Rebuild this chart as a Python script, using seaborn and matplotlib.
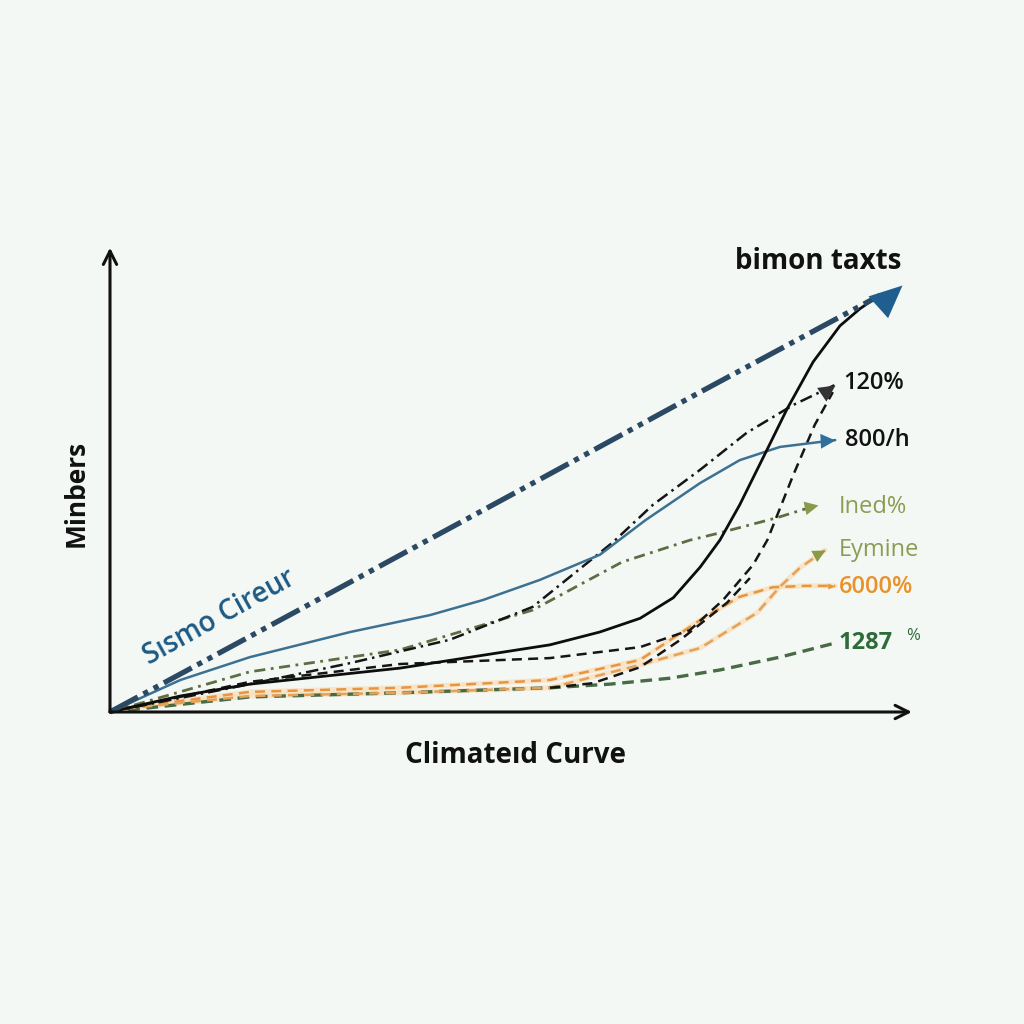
import numpy as np
import pandas as pd
import seaborn as sns
import matplotlib.pyplot as plt

# values (x: 0-100, y: 0-100)
navy_x = [0, 24.1, 49.4, 74.7, 97.5]
navy_y = [0, 22.5, 46.2, 70.0, 91.2]

black_x = [0, 8.9, 17.7, 36.7, 55.7, 62.0, 67.1, 71.3, 74.7, 77.2, 79.7, 83.2, 85.7, 89.0, 92.4, 94.9, 97.2]
black_y = [0, 3.5, 6.1, 9.6, 14.7, 17.5, 20.5, 25.0, 31.7, 37.6, 45.3, 57.5, 66.3, 76.6, 84.5, 88.2, 91.0]

blue_x = [0, 8.9, 17.7, 30.4, 40.5, 47.2, 54.4, 62.0, 67.8, 74.7, 79.7, 84.8, 91.8]
blue_y = [0, 7.0, 12.0, 17.5, 21.2, 24.5, 28.9, 34.4, 42.0, 50.1, 55.1, 58.0, 59.5]

dashdot_x = [0, 17.7, 30.4, 43.0, 53.5, 63.7, 68.7, 74.7, 80.6, 86.5, 91.8]
dashdot_y = [0, 6.1, 10.7, 15.8, 23.0, 37.2, 45.3, 53.0, 61.1, 67.2, 71.6]

steep_x = [0, 17.7, 36.7, 55.7, 67.1, 73.4, 77.6, 81.4, 83.2, 86.5, 89.2, 91.5]
steep_y = [0, 6.6, 10.5, 11.8, 14.2, 17.9, 24.5, 32.2, 37.6, 51.9, 62.8, 70.0]

lower_x = [55.7, 61.1, 67.1, 72.2, 78.1, 81.0]
lower_y = [5.3, 6.3, 9.8, 15.8, 23.9, 29.3]

olive_x = [0, 17.7, 36.7, 53.5, 64.8, 73.4, 77.2, 84.4, 89.6]
olive_y = [0, 8.8, 13.6, 22.3, 32.8, 37.6, 39.2, 42.5, 45.3]

orange1_x = [0, 17.7, 36.7, 55.7, 67.1, 74.7, 79.7, 83.9, 88.0, 91.8]
orange1_y = [0.4, 4.4, 5.3, 7.0, 11.4, 20.1, 25.2, 27.3, 27.6, 27.6]

orange2_x = [0, 17.7, 36.7, 55.7, 67.1, 74.7, 81.9, 84.8, 87.3, 90.5]
orange2_y = [0.4, 3.5, 4.2, 5.3, 10.3, 14.0, 21.7, 27.4, 31.5, 35.4]

green_x = [0, 17.7, 36.7, 55.7, 63.3, 70.9, 77.2, 84.8, 91.8]
green_y = [0, 3.3, 4.2, 5.3, 6.1, 7.4, 9.2, 12.0, 15.1]

end_labels = ["120%", "800/h", "Ined%", "Eymine", "6000%", "1287"]

sns.set_theme(style="white")
plt.rcParams['font.family'] = ['Open Sans', 'DejaVu Sans']

bg = "#f3f8f5"
fig = plt.figure(figsize=(10.24, 10.24), dpi=100, facecolor=bg)
ax = fig.add_axes([110 / 1024, 312 / 1024, 790 / 1024, 457 / 1024])
ax.set_facecolor(bg)
ax.patch.set_alpha(0)
ax.set_xlim(0, 100)
ax.set_ylim(0, 100)
for s in ax.spines.values():
    s.set_visible(False)
ax.set_xticks([])
ax.set_yticks([])


def draw(xs, ys, color, lw, dashes=None, zorder=3, alpha=1.0):
    df = pd.DataFrame({"x": xs, "y": ys})
    sns.lineplot(data=df, x="x", y="y", ax=ax, color=color, linewidth=lw,
                 sort=False, estimator=None, zorder=zorder, alpha=alpha)
    line = ax.lines[-1]
    line.set_clip_on(False)
    line.set_solid_joinstyle("round")
    line.set_dash_joinstyle("round")
    if dashes is not None:
        line.set_dashes(dashes)


def head(tip, tail, color, size, width=0.45, angle=None):
    # slim triangle with its point on the line end, turned along the last segment
    if angle is None:
        p1 = ax.transData.transform(tail)
        p2 = ax.transData.transform(tip)
        a = np.arctan2(p2[1] - p1[1], p2[0] - p1[0])
    else:
        a = np.radians(angle)
    c, s = np.cos(a), np.sin(a)
    base = [(-1.0, width), (-1.0, -width)]
    verts = [(0.0, 0.0)] + [(bx * c - by * s, bx * s + by * c) for bx, by in base]
    verts.append((0.0, 0.0))
    ax.scatter([tip[0]], [tip[1]], marker=verts, s=size, color=color,
               linewidths=0, zorder=8, clip_on=False)


# orange lines with a soft glow
for xs, ys in [(orange1_x, orange1_y), (orange2_x, orange2_y)]:
    draw(xs, ys, "#fbdcb5", 3.6, zorder=2, alpha=0.7)
draw(green_x, green_y, "#476b44", 2.4, dashes=(3.5, 2))
draw(orange1_x, orange1_y, "#e8953f", 1.8, dashes=(4, 2.5))
draw(orange2_x, orange2_y, "#e3a25a", 1.8, dashes=(4, 2.5))
draw(lower_x, lower_y, "#151515", 1.8, dashes=(4, 2.5))
draw(steep_x, steep_y, "#151515", 1.8, dashes=(4, 2.5))
draw(olive_x, olive_y, "#5f6d44", 2.0, dashes=(4, 2, 1, 2))
draw(dashdot_x, dashdot_y, "#151515", 1.8, dashes=(5, 2, 1, 2))
draw(blue_x, blue_y, "#3c7192", 1.8)
draw(black_x, black_y, "#0d0d0d", 2.0)
draw(navy_x, navy_y, "#2c4963", 3.8, dashes=(6, 1.2, 1, 1.2, 1, 1.2))

head((orange2_x[-1], orange2_y[-1]), None, "#8a9a4a", 420, 0.5, angle=28)
head((olive_x[-1], olive_y[-1]), None, "#8a9a4a", 460, 0.5, angle=12)
head((dashdot_x[-1], dashdot_y[-1]), None, "#333333", 700, 0.5, angle=34)
head((blue_x[-1], blue_y[-1]), None, "#2e6f9c", 480, 0.5, angle=3)
head((orange1_x[-1], orange1_y[-1]), None, "#e8953f", 110, 0.4, angle=0)
head((100.2, 93.4), None, "#1f5f8f", 2400, 0.45, angle=42)

# axes with arrows
arrow_kw = dict(arrowstyle="->", color="#111111", lw=2.2, mutation_scale=24,
                shrinkA=0, shrinkB=0)
ax.annotate("", xy=(101.5, 0), xytext=(0, 0), arrowprops=arrow_kw,
            annotation_clip=False, zorder=9)
ax.annotate("", xy=(0, 101.6), xytext=(0, 0), arrowprops=arrow_kw,
            annotation_clip=False, zorder=9)

# texts
ax.text(89.6, 98.5, "bimon taxts", fontsize=20, fontweight="bold",
        color="#111111", ha="center", va="center")
ax.text(51.3, -9.6, "Climateıd Curve", fontsize=20, fontweight="bold",
        color="#111111", ha="center", va="center")
ax.text(-4.3, 47.9, "Minbers", fontsize=19, fontweight="bold",
        color="#111111", ha="center", va="center", rotation=90)
ax.text(13.9, 20.8, "Sısmo Cireur", fontsize=20, fontweight="semibold",
        color="#1d5a84", ha="center", va="center", rotation=29,
        rotation_mode="anchor")

label_x = [92.8, 93.0, 92.2, 92.2, 92.2, 92.2]
label_y = [72.0, 59.5, 44.9, 35.4, 27.4, 15.1]
label_c = ["#111111", "#111111", "#8d9b54", "#8d9b54", "#e8922c", "#2f6b3a"]
label_w = ["semibold", "semibold", "normal", "normal", "semibold", "bold"]
for t, x, y, c, w in zip(end_labels, label_x, label_y, label_c, label_w):
    ax.text(x, y, t, fontsize=17, color=c, fontweight=w, ha="left", va="center")
ax.text(100.8, 16.6, "%", fontsize=12, color="#2f6b3a", ha="left", va="center")

fig.savefig("out.png", dpi=100, facecolor=bg)
